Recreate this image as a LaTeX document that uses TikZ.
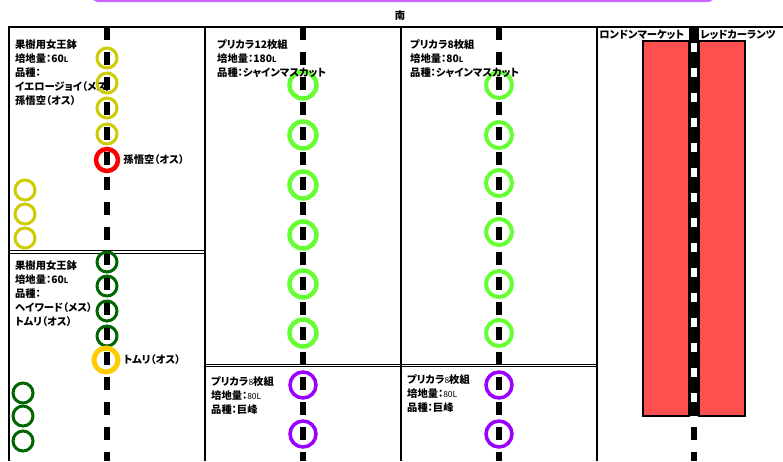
\documentclass[tikz,border=0pt]{standalone}
\usepackage{fontspec}
\newfontfamily\jp[RawFeature=+palt]{Noto Sans CJK JP}
\usetikzlibrary{positioning}
\definecolor{joyyellow}{HTML}{CCCC00}
\definecolor{malered}{HTML}{FF0000}
\definecolor{haygreen}{HTML}{006600}
\definecolor{tomuriorange}{HTML}{FFCC00}
\definecolor{shinegreen}{HTML}{66FF33}
\definecolor{kyohopurple}{HTML}{9900FF}
\definecolor{bedred}{HTML}{FF5050}
\definecolor{barpurple}{HTML}{CC66FF}
\tikzset{
  wall/.style={line width=1.3pt},
  row/.style={line width=6pt, dash pattern=on 13pt off 12pt},
  pot/.style={circle, draw, inner sep=0pt, minimum size=20pt, line width=3pt},
  bigpot/.style={pot, minimum size=27pt, line width=4.5pt},
  info/.style={anchor=north west, align=left, inner sep=0pt, font=\jp\bfseries\fontsize{10.3}{14}\selectfont},
  tag/.style={anchor=west, inner sep=0pt, font=\jp\bfseries\fontsize{10.3}{11}\selectfont},
  bed/.style={draw, fill=bedred, line width=1.4pt}
}
\newcommand{\smL}{{\fontsize{7.5}{7.5}\selectfont L}}
\newcommand{\smn}[1]{{\mdseries\fontsize{8.5}{8.5}\selectfont #1}}

\begin{document}
\begin{tikzpicture}[x=1pt, y=-1pt]
\useasboundingbox (0,0) rectangle (783,461);
\draw[barpurple, line width=2pt, rounded corners=5pt] (93,-12) rectangle (713,1.2);
\node[tag, anchor=center] (south) at (400,16) {南};

\draw[wall] (9,461) -- (9,27) -- (783,27);
\draw[wall] (205,27) -- (205,461);
\draw[wall] (401,27) -- (401,461);
\draw[wall] (597,27) -- (597,461);
\draw[wall] (9,250.8) -- (205,250.8);
\draw[wall] (9,253.8) -- (205,253.8);
\draw[wall] (205,364.4) -- (597,364.4);
\draw[wall] (205,366.6) -- (597,366.6);

\node[info] (hive1) at (15,39) {果樹用女王鉢\\培地量：60\smL\\品種：\\イエロージョイ（メス）\\孫悟空（オス）};
\node[info] (hive2) at (15,260) {果樹用女王鉢\\培地量：60\smL\\品種：\\ヘイワード（メス）\\トムリ（オス）};

\coordinate (r1top) at (107,27);
\coordinate (r1end) at (107,461);
\coordinate (r2top) at (303,27);
\coordinate (r2end) at (303,461);
\coordinate (r3top) at (499,27);
\coordinate (r3end) at (499,461);
\draw[row] (r1top) -- (r1end);
\draw[row] (r2top) -- (r2end);
\draw[row] (r3top) -- (r3end);

\fill (689,27) rectangle (699,416);
\draw[bed] (643,41) rectangle (689,416);
\draw[bed] (699,41) rectangle (745,416);
\draw[white, line width=5.3pt, dash pattern=on 9pt off 16pt] (694,43) -- (694,405);
\coordinate (r4top) at (694,427);
\coordinate (r4end) at (694,461);
\draw[row] (r4top) -- (r4end);
\node[tag] (london) at (599,35) {ロンドンマーケット};
\node[tag] (redcur) at (700,35) {レッドカーランツ};

\node[pot, joyyellow] (yj1) at (107,58) {};
\node[pot, joyyellow] (yj2) at (107,83) {};
\node[pot, joyyellow] (yj3) at (107,108) {};
\node[pot, joyyellow] (yj4) at (107,134) {};
\node[pot, malered, minimum size=22pt, line width=4.5pt] (sg) at (107,160) {};
\node[tag, right=3pt of sg] (sglabel) {孫悟空（オス）};
\node[pot, joyyellow] (ys1) at (25,190) {};
\node[pot, joyyellow] (ys2) at (25,214) {};
\node[pot, joyyellow] (ys3) at (25,238) {};

\node[pot, haygreen] (hw1) at (107,262) {};
\node[pot, haygreen] (hw2) at (107,286) {};
\node[pot, haygreen] (hw3) at (107,311) {};
\node[pot, haygreen] (hw4) at (107,336) {};
\node[pot, tomuriorange, minimum size=24pt, line width=5pt] (tm) at (106,360) {};
\node[tag, right=3pt of tm] (tmlabel) {トムリ（オス）};
\node[pot, haygreen] (hs1) at (23,393) {};
\node[pot, haygreen] (hs2) at (23,416) {};
\node[pot, haygreen] (hs3) at (23,441) {};

\node[bigpot, shinegreen] (sm1) at (303,85) {};
\node[bigpot, shinegreen] (sm2) at (303,135) {};
\node[bigpot, shinegreen] (sm3) at (303,185) {};
\node[bigpot, shinegreen] (sm4) at (303,235) {};
\node[bigpot, shinegreen] (sm5) at (303,284) {};
\node[bigpot, shinegreen] (sm6) at (303,333) {};
\node[pot, kyohopurple, minimum size=26pt, line width=3.5pt] (ky1) at (303,385) {};
\node[pot, kyohopurple, minimum size=26pt, line width=3.5pt] (ky2) at (303,434) {};

\node[pot, shinegreen, minimum size=26pt, line width=4pt] (sn1) at (499,85) {};
\node[pot, shinegreen, minimum size=26pt, line width=4pt] (sn2) at (499,135) {};
\node[pot, shinegreen, minimum size=26pt, line width=4pt] (sn3) at (499,183) {};
\node[pot, shinegreen, minimum size=26pt, line width=4pt] (sn4) at (499,232) {};
\node[pot, shinegreen, minimum size=26pt, line width=4pt] (sn5) at (499,284) {};
\node[pot, shinegreen, minimum size=26pt, line width=4pt] (sn6) at (499,333) {};
\node[pot, kyohopurple, minimum size=26pt, line width=3.5pt] (kz1) at (499,385) {};
\node[pot, kyohopurple, minimum size=26pt, line width=3.5pt] (kz2) at (499,434) {};

\node[info] (pc12) at (217,39) {プリカラ12枚組\\培地量：180\smL\\品種：シャインマスカット};
\node[info] (pc8a) at (410,39) {プリカラ8枚組\\培地量：80\smL\\品種：シャインマスカット};
\node[info] (pc8b) at (211,376) {プリカラ\smn{8}枚組\\培地量：\smn{80L}\\品種：巨峰};
\node[info] (pc8c) at (407,374) {プリカラ\smn{8}枚組\\培地量：\smn{80L}\\品種：巨峰};
\end{tikzpicture}
\end{document}
